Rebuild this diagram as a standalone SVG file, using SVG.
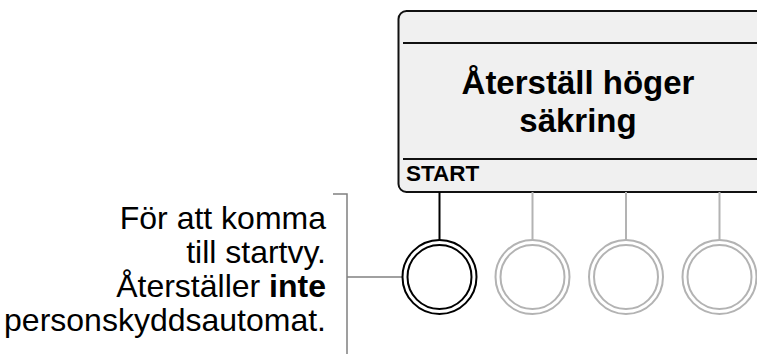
<svg xmlns="http://www.w3.org/2000/svg" width="757" height="354" viewBox="0 0 757 354">
<style>
.box{fill:#f0f0f0;stroke:#111;stroke-width:2}
.sep{stroke:#111;stroke-width:2}
.title{font-family:"Liberation Sans",Arial,sans-serif;font-weight:bold;font-size:33px;fill:#000;text-anchor:middle}
.soft{font-family:"Liberation Sans",Arial,sans-serif;font-weight:bold;font-size:22.5px;fill:#000}
.desc{font-family:"Liberation Sans",Arial,sans-serif;font-size:32px;fill:#000;text-anchor:end}
.btn-on{fill:#fff;stroke:#000;stroke-width:2}
.btn-off{fill:#fff;stroke:#b3b3b3;stroke-width:2}
.lead-on{stroke:#000;stroke-width:2;fill:none}
.lead-off{stroke:#b3b3b3;stroke-width:2;fill:none}
.brk{stroke:#808080;stroke-width:1.5;fill:none}
</style>
<rect width="757" height="354" fill="#fff"/>
<g id="display">
<rect class="box" x="398.5" y="11" width="366" height="181" rx="8"/>
<line class="sep" x1="403" y1="43" x2="757" y2="43"/>
<line class="sep" x1="403" y1="159" x2="757" y2="159"/>
<text class="title" x="578" y="94">Återställ höger</text>
<text class="title" x="578" y="132">säkring</text>
<text class="soft" x="406" y="181">START</text>
</g>
<g id="connectors">
<line class="lead-on" x1="439.5" y1="192" x2="439.5" y2="240"/>
<line class="lead-off" x1="532.5" y1="192" x2="532.5" y2="240"/>
<line class="lead-off" x1="626" y1="192" x2="626" y2="240"/>
<line class="lead-off" x1="719.5" y1="192" x2="719.5" y2="240"/>
<polyline class="brk" points="333,194 347,194 347,354"/>
<line class="brk" x1="347" y1="277" x2="402" y2="277"/>
</g>
<g id="button1">
<circle class="btn-on" cx="439.5" cy="277" r="37"/>
<circle class="btn-on" cx="439.5" cy="277" r="32"/>
</g>
<g id="button2">
<circle class="btn-off" cx="532.5" cy="277" r="37"/>
<circle class="btn-off" cx="532.5" cy="277" r="32"/>
</g>
<g id="button3">
<circle class="btn-off" cx="626" cy="277" r="37"/>
<circle class="btn-off" cx="626" cy="277" r="32"/>
</g>
<g id="button4">
<circle class="btn-off" cx="719.5" cy="277" r="37"/>
<circle class="btn-off" cx="719.5" cy="277" r="32"/>
</g>
<g id="description">
<text class="desc" x="326" y="229">För att komma</text>
<text class="desc" x="326" y="263">till startvy.</text>
<text class="desc" x="326" y="297">Återställer <tspan font-weight="bold">inte</tspan></text>
<text class="desc" x="326" y="331">personskyddsautomat.</text>
</g>
</svg>
